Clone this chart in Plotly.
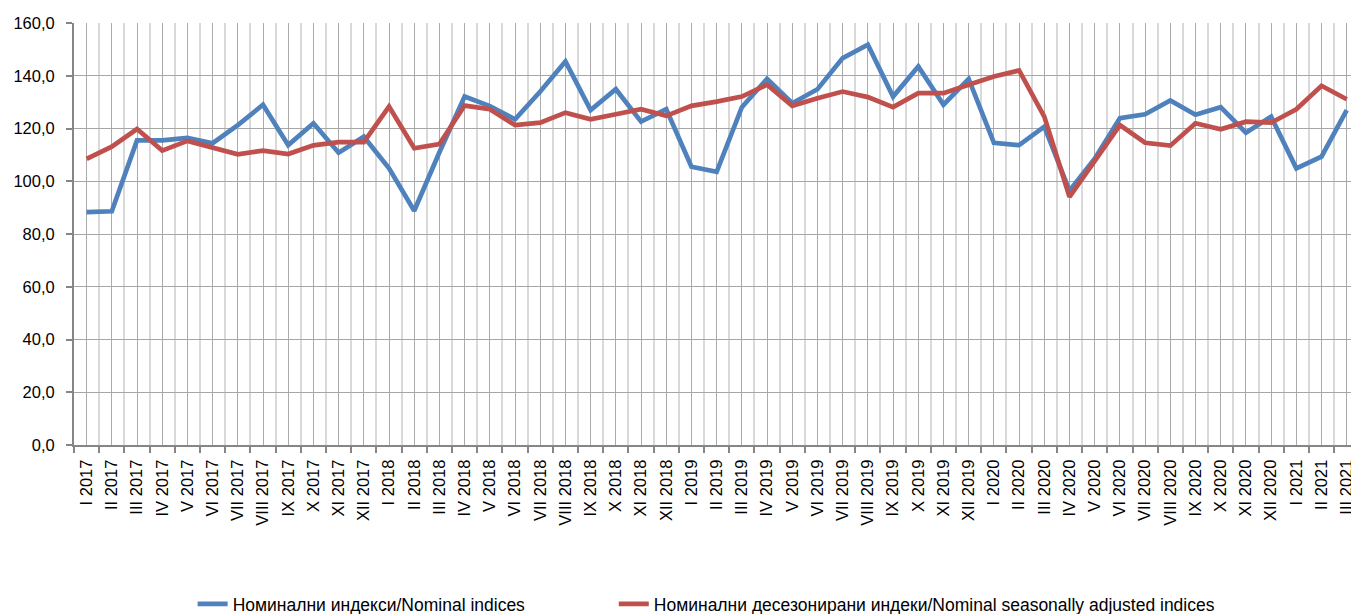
import plotly.graph_objects as go

categories = [
    "I 2017", "II 2017", "III 2017", "IV 2017", "V 2017", "VI 2017", "VII 2017", "VIII 2017",
    "IX 2017", "X 2017", "XI 2017", "XII 2017",
    "I 2018", "II 2018", "III 2018", "IV 2018", "V 2018", "VI 2018", "VII 2018", "VIII 2018",
    "IX 2018", "X 2018", "XI 2018", "XII 2018",
    "I 2019", "II 2019", "III 2019", "IV 2019", "V 2019", "VI 2019", "VII 2019", "VIII 2019",
    "IX 2019", "X 2019", "XI 2019", "XII 2019",
    "I 2020", "II 2020", "III 2020", "IV 2020", "V 2020", "VI 2020", "VII 2020", "VIII 2020",
    "IX 2020", "X 2020", "XI 2020", "XII 2020",
    "I 2021", "II 2021", "III 2021",
]

nominal = [
    88.3, 88.6, 115.5, 115.5, 116.4, 114.4, 121.3, 129.0, 113.7, 122.0, 110.8, 116.9,
    104.9, 88.8, 111.0, 132.1, 128.5, 123.5, 134.0, 145.4, 127.0, 134.9, 122.6, 127.3,
    105.5, 103.6, 128.1, 138.8, 129.6, 134.9, 146.7, 151.8, 132.1, 143.5, 129.0, 138.8,
    114.6, 113.7, 120.7, 96.4, 108.5, 123.9, 125.4, 130.6, 125.2, 128.1, 118.4, 124.5,
    104.9, 109.3, 127.0,
]

seasonally_adjusted = [
    108.5, 113.1, 119.8, 111.6, 115.3, 112.7, 110.2, 111.6, 110.3, 113.6, 114.8, 114.8,
    128.3, 112.5, 114.1, 128.7, 127.3, 121.3, 122.2, 126.0, 123.5, 125.4, 127.3, 124.8,
    128.6, 130.2, 132.1, 136.6, 128.6, 131.5, 134.0, 131.9, 128.1, 133.4, 133.4, 136.6,
    139.7, 142.0, 124.5, 94.1, 107.8, 121.3, 114.6, 113.5, 122.0, 119.7, 122.6, 122.2,
    127.3, 136.2, 131.1,
]

y_ticks = [0, 20, 40, 60, 80, 100, 120, 140, 160]

series_names = [
    "Номинални индекси/Nominal indices",
    "Номинални десезонирани индеки/Nominal seasonally adjusted indices",
]

idx = list(range(len(categories)))
boundaries = [i - 0.5 for i in range(len(categories) + 1)]

fig = go.Figure()
fig.add_trace(go.Scatter(
    x=idx, y=nominal, mode="lines", name=series_names[0],
    line=dict(color="#4F81BD", width=4.7), legend="legend",
))
fig.add_trace(go.Scatter(
    x=idx, y=seasonally_adjusted, mode="lines", name=series_names[1],
    line=dict(color="#C0504D", width=4.7), legend="legend2",
))

legend_font = dict(family="Liberation Sans, Arial, sans-serif", size=17.5, color="black")

fig.update_layout(
    width=1351, height=614,
    margin=dict(l=74, r=0, t=23, b=169, pad=0, autoexpand=False),
    paper_bgcolor="white", plot_bgcolor="white",
    separators=",.",
    font=dict(family="Liberation Sans, Arial, sans-serif", size=16, color="black"),
    showlegend=True,
    legend=dict(
        orientation="h", x=0.0929, xanchor="left", y=-0.377, yanchor="middle",
        font=legend_font, itemwidth=30, bgcolor="rgba(0,0,0,0)",
    ),
    legend2=dict(
        orientation="h", x=0.4227, xanchor="left", y=-0.377, yanchor="middle",
        font=legend_font, itemwidth=30, bgcolor="rgba(0,0,0,0)",
    ),
)

fig.update_xaxes(
    range=[-0.5, 50.17], automargin=False,
    tickmode="array", tickvals=idx, ticktext=categories,
    tickangle=-90, ticks="", ticklen=0, ticklabelstandoff=6,
    ticklabeloverflow="allow",
    tickfont=dict(size=16.5),
    showgrid=True, gridcolor="#ababab", gridwidth=1,
    minor=dict(tickmode="array", tickvals=boundaries, ticks="outside", ticklen=6,
               tickcolor="#868686", tickwidth=2,
               showgrid=True, gridcolor="#d9d9d9", gridwidth=1.5),
    showline=True, linecolor="#868686", linewidth=2,
    zeroline=False, fixedrange=True,
)

fig.update_yaxes(
    range=[0, 160], automargin=False,
    tickmode="array", tickvals=y_ticks, tickformat=".1f",
    ticks="outside", ticklen=6, tickcolor="#868686", tickwidth=2,
    ticklabelstandoff=8, tickfont=dict(size=16.5),
    showgrid=True, gridcolor="#a6a6a6", gridwidth=1,
    showline=True, linecolor="#868686", linewidth=2,
    zeroline=False, fixedrange=True,
)

fig.write_html(
    "out.html",
    config={"displayModeBar": False},
    post_script="document.body.style.margin='0';document.body.style.overflow='hidden';",
)
